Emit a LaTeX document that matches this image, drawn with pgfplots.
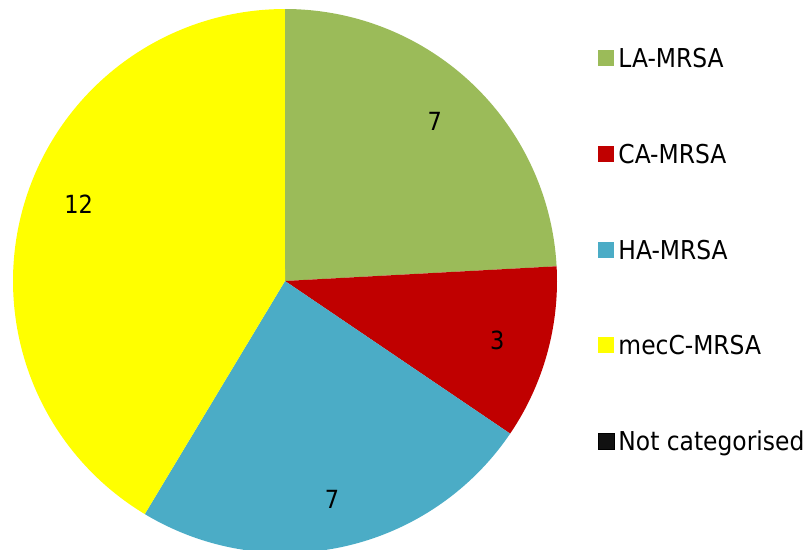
\documentclass[border=0pt]{standalone}
\usepackage{pgfplots}
\pgfplotsset{compat=1.18}
\usepgfplotslibrary{polar}
\usepackage{fontspec}
\setmainfont{DejaVu Sans Condensed}
\definecolor{lagreen}{HTML}{9BBB59}
\definecolor{cared}{HTML}{C00000}
\definecolor{hablue}{HTML}{4BACC6}
\definecolor{mecyellow}{HTML}{FFFF00}
\definecolor{notcat}{HTML}{111111}
\begin{document}
\begin{tikzpicture}
\useasboundingbox (0,0) rectangle (810pt,549pt);
% values
\def\vLA{7}\def\vCA{3}\def\vHA{7}\def\vMEC{12}\def\vNC{0}
\pgfmathsetmacro{\tot}{\vLA+\vCA+\vHA+\vMEC+\vNC}
\pgfmathsetmacro{\aA}{90}
\pgfmathsetmacro{\aB}{\aA-\vLA/\tot*360}
\pgfmathsetmacro{\aC}{\aB-\vCA/\tot*360}
\pgfmathsetmacro{\aD}{\aC-\vHA/\tot*360}
\pgfmathsetmacro{\aE}{\aD-\vMEC/\tot*360}
\begin{polaraxis}[
  at={(285pt,268pt)}, anchor=center,
  scale only axis, width=544pt, height=544pt,
  xmin=0, xmax=360, ymin=0, ymax=1,
  hide axis, clip=false,
  legend style={draw=none, fill=none, at={(1.069,0.931)}, anchor=north west,
    row sep=70.75pt, font=\fontsize{26}{26}\selectfont,
    nodes={inner sep=0pt, text height=19pt, text depth=6pt},
    legend cell align=left},
  legend image code/.code={\fill[#1] (0pt,-5pt) rectangle (16pt,11pt);},
]
\addplot[fill=lagreen, draw=none, domain=\aB:\aA, samples=90] {1} -- (axis cs:0,0) -- cycle;
\addlegendentry{\,LA-MRSA}
\addplot[fill=cared, draw=none, domain=\aC:\aB, samples=60] {1} -- (axis cs:0,0) -- cycle;
\addlegendentry{\,CA-MRSA}
\addplot[fill=hablue, draw=none, domain=\aD:\aC, samples=90] {1} -- (axis cs:0,0) -- cycle;
\addlegendentry{\,HA-MRSA}
\addplot[fill=mecyellow, draw=none, domain=\aE:\aD, samples=120] {1} -- (axis cs:0,0) -- cycle;
\addlegendentry{\,mecC-MRSA}
\addlegendimage{fill=notcat}
\addlegendentry{\,Not categorised}
\node[font=\fontsize{25}{25}\selectfont] at (axis cs:46.8,0.805) {\vLA};
\node[font=\fontsize{25}{25}\selectfont] at (axis cs:-15.6,0.81) {\vCA};
\node[font=\fontsize{25}{25}\selectfont] at (axis cs:-77.9,0.823) {\vHA};
\node[font=\fontsize{25}{25}\selectfont] at (axis cs:159.5,0.81) {\vMEC};
\end{polaraxis}
\end{tikzpicture}
\end{document}
